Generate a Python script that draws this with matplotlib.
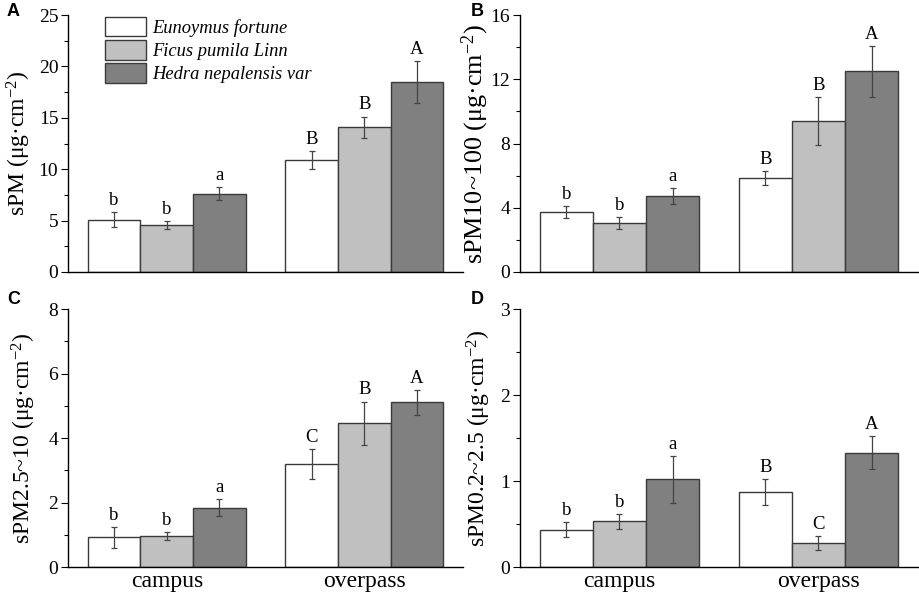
import matplotlib
matplotlib.use("Agg")
import matplotlib.pyplot as plt
from matplotlib import font_manager as fm
import numpy as np

sites = ["campus", "overpass"]
species = ["Eunoymus fortune", "Ficus pumila Linn", "Hedra nepalensis var"]
colors = ["#ffffff", "#c0c0c0", "#808080"]

# values[species][site]
sPM = [[5.1, 10.9], [4.55, 14.1], [7.6, 18.5]]
sPM_err = [[0.75, 0.9], [0.4, 1.02], [0.63, 2.05]]
sPM_let = [["b", "B"], ["b", "B"], ["a", "A"]]

sPM10 = [[3.72, 5.85], [3.03, 9.4], [4.73, 12.5]]
sPM10_err = [[0.37, 0.43], [0.37, 1.47], [0.49, 1.58]]
sPM10_let = [["b", "B"], ["b", "B"], ["a", "A"]]

sPM25 = [[0.92, 3.2], [0.96, 4.45], [1.84, 5.11]]
sPM25_err = [[0.32, 0.47], [0.11, 0.68], [0.26, 0.39]]
sPM25_let = [["b", "C"], ["b", "B"], ["a", "A"]]

sPM02 = [[0.435, 0.87], [0.53, 0.28], [1.02, 1.33]]
sPM02_err = [[0.09, 0.15], [0.09, 0.08], [0.27, 0.19]]
sPM02_let = [["b", "B"], ["b", "C"], ["a", "A"]]

plt.rcParams["font.family"] = ["Liberation Serif", "DejaVu Serif"]
plt.rcParams["mathtext.fontset"] = "custom"
plt.rcParams["mathtext.rm"] = "Liberation Serif"
plt.rcParams["mathtext.it"] = "Liberation Serif:italic"

W, H = 920, 596
fig = plt.figure(figsize=(W / 100, H / 100), dpi=100)

def ax_at(l, t, r, b):
    return fig.add_axes([l / W, 1 - b / H, (r - l) / W, (b - t) / H])

panels = [
    dict(box=(68, 15, 463, 272), vals=sPM, err=sPM_err, let=sPM_let, ymax=25, step=5,
         ylabel="sPM (μg·cm$^{-2}$)", tag="A", tagxy=(7, 3), xlabels=False,
         legend=True, lx=-0.088, lsize=17),
    dict(box=(520, 15, 918, 272), vals=sPM10, err=sPM10_err, let=sPM10_let, ymax=16, step=4,
         ylabel="sPM10~100 (μg·cm$^{-2}$)", tag="B", tagxy=(471, 3), xlabels=False,
         legend=False, lx=-0.073, lsize=18.8),
    dict(box=(68, 309, 463, 567), vals=sPM25, err=sPM25_err, let=sPM25_let, ymax=8, step=2,
         ylabel="sPM2.5~10 (μg·cm$^{-2}$)", tag="C", tagxy=(7, 291), xlabels=True,
         legend=False, lx=-0.076, lsize=17),
    dict(box=(520, 309, 918, 567), vals=sPM02, err=sPM02_err, let=sPM02_let, ymax=3, step=1,
         ylabel="sPM0.2~2.5 (μg·cm$^{-2}$)", tag="D", tagxy=(471, 291), xlabels=True,
         legend=False, lx=-0.068, lsize=17),
]

legfont = fm.FontProperties(family="Liberation Serif", style="italic", size=13.3)

x = np.arange(len(sites))
w = 0.267
for p in panels:
    ax = ax_at(*p["box"])
    handles = []
    for i in range(3):
        pos = x + (i - 1) * w
        h = ax.bar(pos, p["vals"][i], width=w, color=colors[i], edgecolor="#3a3a3a",
                   linewidth=1.0, label=species[i], zorder=2)
        handles.append(h)
        ax.errorbar(pos, p["vals"][i], yerr=p["err"][i], fmt="none", ecolor="#444444",
                    elinewidth=0.9, capsize=2.5, capthick=0.9, zorder=3)
        for j in range(len(sites)):
            top = p["vals"][i][j] + p["err"][i][j]
            ax.text(pos[j], top + p["ymax"] * 0.012, p["let"][i][j], ha="center", va="bottom",
                    fontsize=13.5)
    ax.set_xlim(-0.5, 1.5)
    ax.set_ylim(0, p["ymax"])
    ax.set_yticks(np.arange(0, p["ymax"] + 0.001, p["step"]))
    ax.set_yticks(np.arange(p["step"] / 2, p["ymax"], p["step"]), minor=True)
    ax.yaxis.set_major_formatter(matplotlib.ticker.FormatStrFormatter("%g"))
    ax.tick_params(axis="y", which="major", direction="out", length=5, width=0.8,
                   labelsize=14, pad=2)
    ax.tick_params(axis="y", which="minor", direction="out", length=3, width=0.8)
    ax.set_xticks(x)
    if p["xlabels"]:
        ax.set_xticklabels(sites, fontsize=17)
    else:
        ax.set_xticklabels([])
    ax.tick_params(axis="x", length=0, pad=3)
    for s in ["top", "right"]:
        ax.spines[s].set_visible(False)
    for s in ["left", "bottom"]:
        ax.spines[s].set_linewidth(1.0)
    ax.set_ylabel(p["ylabel"], fontsize=p["lsize"])
    ax.yaxis.set_label_coords(p["lx"], 0.5)
    fig.text(p["tagxy"][0] / W, 1 - p["tagxy"][1] / H, p["tag"], ha="left", va="top",
             fontsize=13, fontweight="bold", family="Liberation Sans")
    if p["legend"]:
        ax.legend(handles=handles, loc="upper left", bbox_to_anchor=(0.094, 0.993),
                  frameon=False, borderpad=0, borderaxespad=0, handlelength=2.2,
                  handleheight=1.25, handletextpad=0.35, labelspacing=0.18, prop=legfont)

fig.savefig("out.png", dpi=100)
